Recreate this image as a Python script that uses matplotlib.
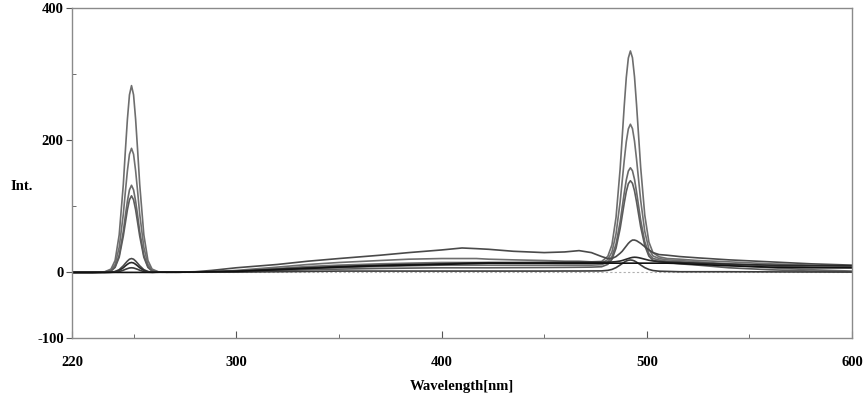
import matplotlib
matplotlib.use("Agg")
import matplotlib.pyplot as plt
from matplotlib.ticker import FixedLocator

plt.rcParams['font.family'] = ['Liberation Serif', 'DejaVu Serif']
plt.rcParams['axes.unicode_minus'] = False

# wavelength grid [nm]
wl = [220, 230, 236, 239, 241, 243, 245, 246, 247, 248, 249, 250, 251, 252, 253,
      255, 257, 259, 262, 266, 272, 280, 288, 300, 320, 335, 350, 370, 384,
      400, 410, 417, 423, 435, 450, 460, 467, 473, 478, 481, 483, 485, 487,
      488, 489, 490, 491, 492, 493, 494, 495, 496, 497, 499, 501, 503, 506,
      510, 516, 525, 540, 560, 580, 600]

# intensities, one list per trace
trace_a = [0, 0, 1, 5, 18, 57, 133, 184, 232, 269, 283, 269, 232, 184, 133,
           57, 18, 5, 1, 0.3, 0.3, 0.5, 1, 3, 8, 12, 15, 18, 20,
           21, 21, 21, 20, 19, 18, 17, 17, 16, 16.6, 24.3, 41.6, 83.3, 156.7,
           204.5, 252.3, 295.4, 324.8, 335.5, 325.3, 296.4, 253.8, 206.5, 159.2, 86.8, 46.1, 29.8, 23.6,
           21, 20, 18, 16, 13, 11, 9]
trace_b = [0, 0, 0.7, 3.4, 12, 38, 88, 122, 154, 179, 188, 179, 154, 122, 88,
           38, 12, 3.4, 0.7, 0.3, 0.3, 0.5, 1, 2, 6, 9, 11, 13, 14,
           15, 15, 15, 14.5, 14, 14, 13.5, 13.5, 13.2, 14, 19.4, 30.9, 58.4, 106.8,
           138.2, 169.7, 198, 217.4, 224.5, 217.9, 199, 171.2, 140.2, 109.3, 62, 35.4, 24.9, 21,
           19, 18, 16, 13, 10, 8, 7]
trace_c = [0, 0, 0.5, 2.4, 8.6, 26, 62, 86, 108, 125, 132, 125, 108, 86, 62,
           26, 8.6, 2.4, 0.5, 0.3, 0.3, 0.5, 0.8, 1, 4, 6, 7.5, 9, 10,
           11, 11, 11, 11, 11, 11, 11, 11, 11, 11.7, 15.7, 23.8, 43, 76.6,
           98.5, 120.4, 140, 153.5, 158.5, 154, 141, 121.9, 100.5, 79.2, 46.5, 28.3, 21.2, 18.7,
           17, 16, 14, 11, 7, 4, 2]
trace_d = [0, 0, 0.4, 2.1, 7.5, 23, 55, 75, 95, 110, 116, 110, 95, 75, 55,
           23, 7.5, 2.1, 0.4, 0.3, 0.3, 0.5, 0.8, 1, 2.5, 4, 5, 6, 6.5,
           7, 7, 7, 7, 7.2, 7.4, 7.6, 7.8, 8, 8.6, 12.2, 19.6, 36.7, 66.4,
           85.7, 105.1, 122.5, 134.4, 138.9, 135, 123.6, 106.8, 87.9, 69.2, 40.6, 24.6, 18.4, 16.4,
           15, 13, 11, 7, 4, 2, 1]
trace_e = [0, 0, 0.1, 0.4, 1.4, 4.2, 10, 13.7, 17.2, 20, 21, 20, 17.2, 13.7, 10,
           4.2, 1.4, 0.4, 0.3, 0.3, 0.5, 1, 3, 7, 12, 17, 21, 26, 30,
           34, 37, 36, 35, 32, 30, 31, 33, 30, 24, 21, 21, 24, 29,
           32, 36, 40, 44, 47, 49, 49, 48, 46, 44, 39, 34, 30, 27,
           26, 24, 22, 19, 16, 13, 11]
trace_f = [0, 0, 0.1, 0.3, 1, 3, 7, 9.8, 12.3, 14.3, 15, 14.3, 12.3, 9.8, 7,
           3, 1, 0.3, 0.3, 0.3, 0.3, 0.5, 1, 2, 5, 7, 9, 11, 12,
           13, 14, 14.5, 15, 15, 15.2, 15.3, 15.4, 15.5, 15.5, 15.6, 15.8, 16.3, 17.2,
           18, 19, 20, 21, 22, 22.7, 23, 22.8, 22.3, 21.6, 20, 18.4, 17.3, 16.4,
           15.5, 15, 14, 12.5, 11, 10, 10]
trace_g = [0, 0, 0, 0.1, 0.5, 1.4, 3.3, 4.6, 5.7, 6.7, 7, 6.7, 5.7, 4.6, 3.3,
           1.4, 0.5, 0.1, 0.3, 0.3, 0.3, 0.3, 0.5, 0.5, 1, 1.5, 2, 2, 2,
           2, 2, 2, 2, 2, 2, 2.1, 2.1, 2.2, 2.3, 3.1, 4.5, 7.2, 11.2,
           13.4, 15.5, 17.3, 18.4, 18.8, 18.4, 17.3, 15.5, 13.4, 11.2, 7.2, 4.5, 2.8, 1.8,
           1.5, 1, 1, 1, 0.8, 0.6, 0.5]
trace_h = [0, 0, 0, 0, 0, 0, 0, 0, 0, 0, 0, 0, 0, 0, 0,
           0, 0, 0, 0.3, 0.3, 0.3, 0.5, 1, 1.5, 4, 6, 8, 10, 11,
           12, 13, 13.5, 14, 14, 14, 14, 14, 14, 14, 14, 14, 14, 14,
           14, 14, 14, 14, 14, 14, 14, 14, 14, 14, 14, 14, 14, 14,
           14, 13.5, 12, 10, 8, 7, 7]

traces = [trace_a, trace_b, trace_c, trace_d, trace_e, trace_f, trace_g, trace_h]
colors = ['#6e6e6e', '#707070', '#6a6a6a', '#5c5c5c', '#4a4a4a', '#2a2a2a', '#3c3c3c', '#111111']

fig = plt.figure(figsize=(8.63, 4.0), dpi=100)
ax = fig.add_axes([0.0834, 0.154, 0.904, 0.825])

ax.axhline(0, color='#b0b0b0', ls=(0, (2, 2)), lw=0.8, zorder=1)
for y, c in zip(traces, colors):
    ax.plot(wl, y, color=c, lw=1.2, zorder=2)

ax.set_xlim(220, 600)
ax.set_ylim(-100, 400)

ax.set_xticks([220, 300, 400, 500, 600])
ax.xaxis.set_minor_locator(FixedLocator([250, 350, 450, 550]))
ax.set_yticks([-100, 0, 200, 400])
ax.yaxis.set_minor_locator(FixedLocator([100, 300]))

ax.tick_params(axis='x', which='major', direction='in', length=5, pad=13, labelsize=10.5, color='#555555')
ax.tick_params(axis='x', which='minor', direction='in', length=3, color='#555555')
ax.tick_params(axis='y', which='major', direction='out', length=4, pad=2, labelsize=10.5, color='#555555')
ax.tick_params(axis='y', which='minor', direction='in', length=3, color='#555555')
for lab in ax.get_xticklabels() + ax.get_yticklabels():
    lab.set_fontweight('bold')

for s in ax.spines.values():
    s.set_color('#8a8a8a')
    s.set_linewidth(1.0)

ax.set_xlabel('Wavelength[nm]', fontsize=10.5, fontweight='bold')
ax.xaxis.set_label_coords(0.5, -0.125)
ax.set_ylabel('Int.', fontsize=10.5, fontweight='bold', rotation=0, ha='center', va='center')
ax.yaxis.set_label_coords(-0.065, 0.46)

fig.savefig('out.png', dpi=100)
